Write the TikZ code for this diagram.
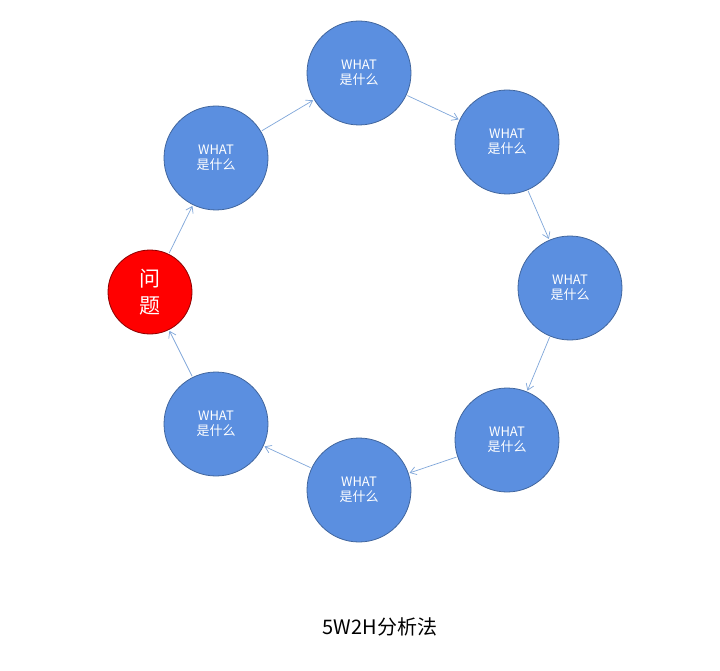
\documentclass[tikz,border=0pt]{standalone}
\usepackage{fontspec}
\setmainfont{Noto Sans CJK SC}
\usetikzlibrary{arrows.meta}
\definecolor{cfill}{HTML}{5B8FE0}
\definecolor{cedge}{HTML}{41669E}
\definecolor{carr}{HTML}{7FA6DA}
\tikzset{
  bc/.style={circle,fill=cfill,draw=cedge,line width=0.8pt,minimum size=104pt,inner sep=0pt,text=white,font=\fontsize{13pt}{15pt}\selectfont,align=center},
  rc/.style={circle,fill=red,draw=red!55!black,line width=0.8pt,minimum size=84pt,inner sep=0pt,text=white,font=\fontsize{21pt}{27pt}\selectfont,align=center},
  ar/.style={draw=carr,line width=0.7pt,-{Straight Barb[length=6pt,width=8pt]},shorten <=1pt,shorten >=1pt}
}
\begin{document}
\begin{tikzpicture}[x=1pt,y=-1pt]
\useasboundingbox[fill=white] (0,0) rectangle (720,671);
\node[rc] (q) at (150,292) {问\\题};
\node[bc] (a) at (216,158) {WHAT\\是什么};
\node[bc] (b) at (359,73) {WHAT\\是什么};
\node[bc] (c) at (507,142) {WHAT\\是什么};
\node[bc] (d) at (570,288) {WHAT\\是什么};
\node[bc] (e) at (507,440) {WHAT\\是什么};
\node[bc] (f) at (359,490) {WHAT\\是什么};
\node[bc] (g) at (216,424) {WHAT\\是什么};
\node[font=\fontsize{20pt}{24pt}\selectfont] (t) at (380,627) {5W2H分析法};
\draw[ar] (q) -- (a);
\draw[ar] (a) -- (b);
\draw[ar] (b) -- (c);
\draw[ar] (c) -- (d);
\draw[ar] (d) -- (e);
\draw[ar] (e) -- (f);
\draw[ar] (f) -- (g);
\draw[ar] (g) -- (q);
\end{tikzpicture}
\end{document}
